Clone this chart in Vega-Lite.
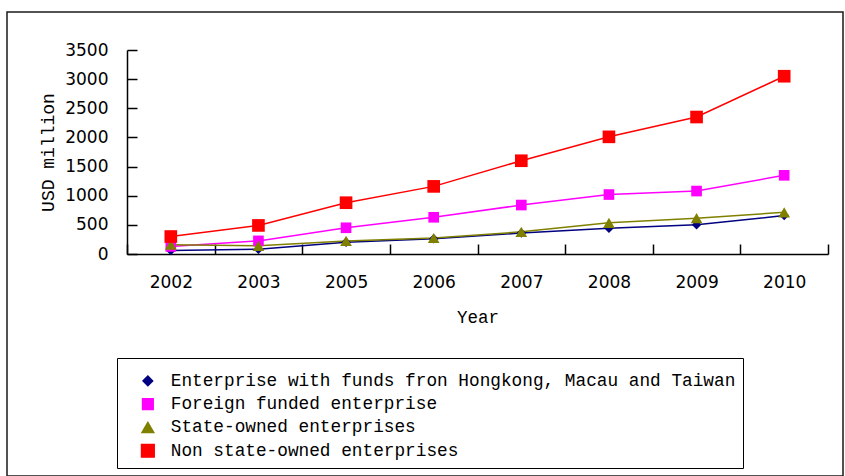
{
  "$schema": "https://vega.github.io/schema/vega-lite/v6.json",
  "width": 836,
  "height": 464,
  "autosize": {"type": "none"},
  "padding": {"left": 7, "top": 12, "right": 2, "bottom": 0},
  "background": "white",
  "config": {
    "view": {"stroke": "#1a1a1a", "strokeWidth": 1.5},
    "axis": {"grid": false, "domainColor": "black", "domainWidth": 1.5, "tickColor": "black", "tickWidth": 1.5, "labelColor": "black", "titleColor": "black", "titleFontWeight": "normal"}
  },
  "data": {
    "values": [
      {"year": "2002", "series": "Enterprise with funds fron Hongkong, Macau and Taiwan", "value": 60},
      {"year": "2003", "series": "Enterprise with funds fron Hongkong, Macau and Taiwan", "value": 80},
      {"year": "2005", "series": "Enterprise with funds fron Hongkong, Macau and Taiwan", "value": 200},
      {"year": "2006", "series": "Enterprise with funds fron Hongkong, Macau and Taiwan", "value": 260},
      {"year": "2007", "series": "Enterprise with funds fron Hongkong, Macau and Taiwan", "value": 360},
      {"year": "2008", "series": "Enterprise with funds fron Hongkong, Macau and Taiwan", "value": 440},
      {"year": "2009", "series": "Enterprise with funds fron Hongkong, Macau and Taiwan", "value": 500},
      {"year": "2010", "series": "Enterprise with funds fron Hongkong, Macau and Taiwan", "value": 660},
      {"year": "2002", "series": "Foreign funded enterprise", "value": 130},
      {"year": "2003", "series": "Foreign funded enterprise", "value": 225},
      {"year": "2005", "series": "Foreign funded enterprise", "value": 450},
      {"year": "2006", "series": "Foreign funded enterprise", "value": 630},
      {"year": "2007", "series": "Foreign funded enterprise", "value": 840},
      {"year": "2008", "series": "Foreign funded enterprise", "value": 1020},
      {"year": "2009", "series": "Foreign funded enterprise", "value": 1080},
      {"year": "2010", "series": "Foreign funded enterprise", "value": 1350},
      {"year": "2002", "series": "State-owned enterprises", "value": 160},
      {"year": "2003", "series": "State-owned enterprises", "value": 140},
      {"year": "2005", "series": "State-owned enterprises", "value": 225},
      {"year": "2006", "series": "State-owned enterprises", "value": 275},
      {"year": "2007", "series": "State-owned enterprises", "value": 380},
      {"year": "2008", "series": "State-owned enterprises", "value": 535},
      {"year": "2009", "series": "State-owned enterprises", "value": 615},
      {"year": "2010", "series": "State-owned enterprises", "value": 715},
      {"year": "2002", "series": "Non state-owned enterprises", "value": 300},
      {"year": "2003", "series": "Non state-owned enterprises", "value": 490},
      {"year": "2005", "series": "Non state-owned enterprises", "value": 880},
      {"year": "2006", "series": "Non state-owned enterprises", "value": 1160},
      {"year": "2007", "series": "Non state-owned enterprises", "value": 1600},
      {"year": "2008", "series": "Non state-owned enterprises", "value": 2010},
      {"year": "2009", "series": "Non state-owned enterprises", "value": 2350},
      {"year": "2010", "series": "Non state-owned enterprises", "value": 3050}
    ]
  },
  "encoding": {
    "x": {
      "field": "year",
      "type": "ordinal",
      "scale": {"type": "band", "range": [120, 821], "paddingInner": 0, "paddingOuter": 0},
      "axis": {
        "title": "Year",
        "labelAngle": 0,
        "tickBand": "extent",
        "tickSize": -10,
        "labelPadding": 30,
        "labelFont": "DejaVu Sans",
        "labelFontSize": 17,
        "titleFont": "Liberation Mono",
        "titleFontSize": 17.5,
        "titlePadding": 18,
        "offset": -222
      }
    },
    "y": {
      "field": "value",
      "type": "quantitative",
      "scale": {"domain": [0, 3500], "range": [242, 38], "nice": false},
      "axis": {
        "title": "USD million",
        "format": "d",
        "values": [0, 500, 1000, 1500, 2000, 2500, 3000, 3500],
        "tickSize": -10,
        "labelPadding": 29,
        "labelFont": "DejaVu Sans",
        "labelFontSize": 17,
        "titleFont": "Liberation Mono",
        "titleFontSize": 18,
        "titlePadding": 7,
        "offset": -120
      }
    },
    "color": {
      "field": "series",
      "type": "nominal",
      "sort": null,
      "scale": {
        "domain": ["Enterprise with funds fron Hongkong, Macau and Taiwan", "Foreign funded enterprise", "State-owned enterprises", "Non state-owned enterprises"],
        "range": ["#000080", "#FF00FF", "#808000", "#FF0000"]
      },
      "legend": {
        "orient": "none",
        "legendX": 110,
        "legendY": 346,
        "title": " ",
        "titleFontSize": 4,
        "titlePadding": 3,
        "direction": "vertical",
        "strokeColor": "black",
        "fillColor": "white",
        "padding": 7,
        "labelFont": "Liberation Mono",
        "labelFontSize": 17.75,
        "labelColor": "black",
        "labelLimit": 1000,
        "rowPadding": 4.3,
        "symbolSize": 100,
        "symbolOffset": 15,
        "labelOffset": 14,
        "symbolOpacity": 1
      }
    }
  },
  "layer": [
    {"mark": {"type": "line", "strokeWidth": 1.5}},
    {
      "mark": {"type": "point", "filled": true, "opacity": 1},
      "encoding": {
        "shape": {
          "field": "series",
          "type": "nominal",
          "scale": {
            "domain": ["Enterprise with funds fron Hongkong, Macau and Taiwan", "Foreign funded enterprise", "State-owned enterprises", "Non state-owned enterprises"],
            "range": ["diamond", "square", "triangle-up", "square"]
          },
          "legend": null
        },
        "size": {
          "field": "series",
          "type": "ordinal",
          "scale": {
            "domain": ["Enterprise with funds fron Hongkong, Macau and Taiwan", "Foreign funded enterprise", "State-owned enterprises", "Non state-owned enterprises"],
            "range": [90, 160, 130, 180]
          },
          "legend": null
        }
      }
    }
  ]
}
